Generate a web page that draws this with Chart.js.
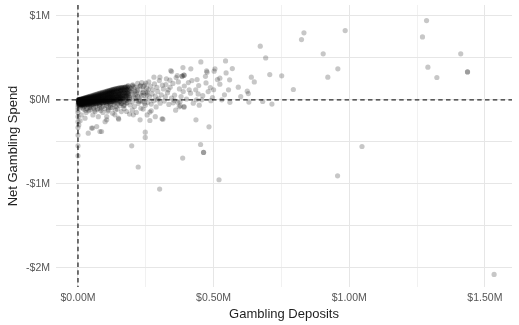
<!DOCTYPE html>
<html>
<head>
<meta charset="utf-8">
<script src="https://cdn.jsdelivr.net/npm/chart.js@4/dist/chart.umd.min.js"></script>
<style>
  html, body { margin: 0; padding: 0; background: #ffffff; }
  #wrap { width: 519px; height: 325px; }
</style>
</head>
<body>
<div id="wrap"><canvas id="c" width="519" height="325"></canvas></div>
<script>
// All amounts are in thousands of dollars: [gambling deposits, net gambling spend]

// Axis ranges ($K)
const xRange = [-81, 1600];
const yRange = [-2230, 1130];

// Tick positions ($K); multiples of 500 / 1000 are labelled, the rest are minor grid lines
const xTickValues = [0, 250, 500, 750, 1000, 1250, 1500];
const yTickValues = [-2000, -1500, -1000, -500, 0, 500, 1000];

// Heavy concentration of small accounts near the origin
const coreAccounts = [
  [1,1],[2,-4],[1,-10],[3,-17],[2,-26],[1,-37],[3,-49],[0,-60],
  [5,5],[6,0],[4,-7],[5,-14],[6,-22],[4,-31],[5,-43],[6,-57],
  [8,7],[9,2],[8,-4],[7,-9],[9,-17],[8,-25],[7,-36],[9,-47],[8,-63],
  [11,10],[12,4],[11,-2],[10,-8],[12,-15],[11,-24],[10,-33],[12,-46],
  [14,13],[15,7],[13,1],[14,-6],[15,-12],[13,-20],[14,-30],[15,-41],[14,-55],
  [17,16],[18,10],[16,3],[17,-3],[18,-10],[16,-18],[17,-27],[18,-39],[17,-52],
  [20,19],[21,12],[19,5],[20,-1],[21,-8],[19,-16],[20,-25],[21,-36],[20,-49],[19,-66],
  [24,23],[25,16],[23,9],[24,2],[25,-5],[23,-13],[24,-22],[25,-33],[24,-46],
  [28,27],[29,19],[27,12],[28,4],[29,-3],[27,-11],[28,-20],[29,-31],[28,-44],[27,-60],
  [32,31],[33,23],[31,15],[32,7],[33,0],[31,-8],[32,-17],[33,-28],[32,-41],
  [36,35],[37,26],[35,18],[36,10],[37,2],[35,-6],[36,-15],[37,-26],[36,-39],[35,-55],
  [40,39],[41,30],[39,21],[40,12],[41,4],[39,-4],[40,-13],[41,-24],[40,-37],
  [45,44],[46,34],[44,24],[45,15],[46,6],[44,-2],[45,-11],[46,-22],[45,-35],[44,-52],
  [50,49],[51,38],[49,28],[50,18],[51,9],[49,0],[50,-9],[51,-20],[50,-33],
  [55,54],[56,43],[54,32],[55,21],[56,11],[54,2],[55,-7],[56,-18],[55,-31],[54,-48],
  [60,58],[61,47],[59,35],[60,24],[61,13],[59,4],[60,-6],[61,-17],[60,-30],
  [66,64],[67,52],[65,40],[66,28],[67,17],[65,7],[66,-3],[67,-14],[66,-27],[65,-45],
  [72,70],[73,57],[71,44],[72,32],[73,20],[71,9],[72,-1],[73,-12],[72,-25],
  [78,76],[79,62],[77,49],[78,36],[79,23],[77,12],[78,1],[79,-10],[78,-23],[77,-40],
  [84,82],[85,68],[83,54],[84,40],[85,27],[83,15],[84,4],[85,-8],[84,-21],
  [90,88],[91,73],[89,58],[90,44],[91,30],[89,17],[90,5],[91,-7],[90,-20],[89,-36],
  [97,94],[98,78],[96,63],[97,48],[98,33],[96,19],[97,7],[98,-5],[97,-18],
  [104,101],[105,84],[103,68],[104,52],[105,36],[103,21],[104,8],[105,-4],[104,-17],[103,-33],
  [111,108],[112,90],[110,72],[111,55],[112,39],[110,23],[111,9],[112,-3],[111,-16],
  [118,114],[119,96],[117,77],[118,59],[119,42],[117,26],[118,11],[119,-2],[118,-15],[117,-30],
  [125,121],[126,101],[124,82],[125,63],[126,45],[124,28],[125,13],[126,0],[125,-14],
  [132,127],[133,106],[131,86],[132,66],[133,47],[131,30],[132,14],[133,-1],[132,-16],
  [140,134],[141,112],[139,90],[140,69],[141,49],[139,31],[140,15],[141,0],
  [148,140],[149,117],[147,93],[148,71],[149,50],[147,30],[148,12],[149,-6],
  [156,146],[157,120],[155,96],[156,72],[157,50],[155,29],[156,10],
  [165,150],[166,124],[164,98],[165,74],[166,51],[164,28],[165,8],
  [175,156],[176,128],[174,100],[175,76],[176,52],[174,27],
  [185,160],[186,131],[184,104],[185,78],[186,50],
  [3,-30],[6,-45],[10,-55],[13,-62],[16,-45],[19,-58],[22,-40],[26,-52],[30,-65],[34,-50],
  [38,-62],[42,-45],[47,-60],[52,-42],[57,-58],[62,-40],[68,-55],[74,-38],[80,-52],[86,-35],
  [93,-48],[100,-30],[107,-45],[114,-28],[121,-40],[128,-25],[136,-35],[144,-20],[152,-30],
  [160,-12],[170,-20],[180,-5],
  [100,90],[108,98],[115,105],[122,110],[129,118],[136,124],[143,130],[150,135],[158,138],
  [166,140],[174,142],[182,145],[190,150],
  [100,45],[108,60],[115,70],[122,75],[129,90],[136,80],[143,100],[150,85],[158,105],
  [166,88],[174,110],[182,92],[190,115],
  [100,15],[108,30],[115,33],[122,40],[129,35],[136,55],[143,40],[150,60],[158,40],
  [166,62],[174,40],[182,65],[190,30],
  [100,-10],[108,-20],[115,0],[122,5],[129,-5],[136,10],[143,5],[150,18],[158,20],
  [166,15],[174,10],[182,20],[190,10],
  [2,2],[4,-2],[3,-8],[6,3],[7,-12],[9,-20],[10,-28],[12,-36],[15,-20],[18,-30],[22,-20],
  [26,-28],[30,-10],[34,-20],[38,-30],[43,-10],[48,-25],[53,-15],[58,-22],[63,-10],
  [69,-20],[75,-5],[81,-15],[87,0],[94,-10],
  [3,0],[3,-12],[3,-24],[3,-40],[3,-55],
  [7,5],[7,-6],[7,-20],[7,-33],[7,-50],[7,-66],
  [13,10],[13,-4],[13,-16],[13,-28],[13,-42],[13,-58],
  [19,15],[19,2],[19,-12],[19,-24],[19,-38],[19,-52],
  [25,22],[25,8],[25,-6],[25,-20],[25,-36],[25,-56],
  [31,26],[31,10],[31,-4],[31,-18],[31,-34],[31,-50],
  [38,34],[38,16],[38,0],[38,-14],[38,-30],[38,-48],
  [44,40],[44,20],[44,3],[44,-12],[44,-28],[44,-46],
  [51,46],[51,26],[51,6],[51,-10],[51,-28],[51,-50],
  [58,54],[58,32],[58,10],[58,-8],[58,-26],[58,-46],
  [64,60],[64,38],[64,16],[64,-4],[64,-22],[64,-42],
  [70,66],[70,42],[70,20],[70,0],[70,-18],[70,-40],
  [76,72],[76,48],[76,26],[76,4],[76,-16],[76,-36],
  [82,78],[82,52],[82,30],[82,8],[82,-12],[82,-34],
  [88,84],[88,58],[88,34],[88,10],[88,-12],[88,-30],
  [94,90],[94,64],[94,38],[94,14],[94,-8],[94,-28],
  [101,96],[101,70],[101,42],[101,18],[101,-6],[101,-26],
  [108,104],[108,76],[108,48],[108,22],[108,-4],[108,-24],
  [115,110],[115,82],[115,54],[115,26],[115,-2],[115,-22],
  [122,116],[122,88],[122,58],[122,30],[122,2],[122,-20],
  [129,122],[129,94],[129,62],[129,32],[129,4],[129,-18],
  [136,128],[136,98],[136,66],[136,36],[136,6],[136,-14],
  [144,134],[144,104],[144,70],[144,38],[144,8],[144,-10],
  [152,140],[152,108],[152,74],[152,40],[152,10],
  [160,145],[160,112],[160,78],[160,44],[160,12],
  [170,150],[170,116],[170,82],[170,46],
  [180,155],[180,120],[180,84],[180,48]
];

// Thinner band of small net winners just under the core
const coreFringe = [
  [10,-85],[18,-95],[24,-78],[33,-105],[41,-88],[49,-72],[57,-98],[65,-80],[72,-110],[79,-70],
  [86,-92],[93,-76],[99,-104],[105,-66],[112,-85],[119,-62],[126,-95],[133,-58],[140,-78],
  [147,-50],[154,-70],[162,-45],[171,-62],[178,-38],[28,-125],[46,-118],[63,-140],[84,-128],
  [110,-135],[138,-120]
];

// Mid-sized accounts trailing off to the right of the core
const midAccounts = [
  [152,60],[155,-20],[158,110],[160,-45],[162,140],[165,20],[168,-70],[170,85],[172,150],
  [175,-10],[178,45],[180,120],[182,-35],[185,170],[187,70],[190,5],[192,-60],[195,135],
  [197,95],[200,-25],[202,180],[205,40],[208,-80],[210,150],[212,65],[215,-5],[218,110],
  [220,195],[222,-45],[225,25],[228,160],[230,80],[232,-100],[235,205],[238,-20],[240,120],
  [243,55],[246,175],[248,-65],[250,10],[253,140],[256,90],[258,-30],[261,215],[264,35],
  [267,165],[270,-50],[273,70],[276,120],[279,-10],[282,190],[285,45],[288,-85],[291,150],
  [294,100],[297,15],[300,230],[303,-40],[307,60],[311,175],[315,130],[318,-15],[322,35],
  [326,250],[330,85],[335,-55],[340,150],[345,20],[350,195],[356,55],[362,265],[368,-30],
  [374,130],[380,40],[392,165],[400,10],[410,120],[420,230],[425,-40],[445,170],[460,50],
  [470,280],[490,-10],[500,120],[540,60],[560,-30],[600,40],
  [195,60],[200,110],[205,160],[210,20],[215,80],[220,130],[225,-20],[230,170],[235,50],
  [240,90],[245,-40],[250,200],[255,60],[260,120],[200,170],[210,100],[220,40],[230,-10],
  [240,160],[250,80]
];

// Accounts that withdrew more than they deposited
const netWinners = [
  [20,-110],[30,-150],[26,-218],[40,-130],[45,-95],[50,-337],[55,-180],[62,-120],[69,-318],
  [75,-200],[80,-105],[87,-377],[92,-150],[100,-260],[106,-199],[112,-120],[120,-90],
  [128,-160],[136,-179],[145,-110],[150,-230],[160,-140],[170,-105],[179,-139],[190,-170],
  [200,-120],[215,-150],[229,-238],[240,-110],[255,-180],[270,-130],[285,-200],[38,-397],
  [54,-337],[81,-377],[106,-238],[149,-218],[204,-179],[12,-180],[8,-250],[3,-300],
  [0,-90],[0,-120],[0,-150],[0,-200],[0,-260],[0,-330],[0,-420],[0,-548],[0,-667]
];

// Large and unusual accounts
const largeAccounts = [
  [824,718],[833,798],[985,825],[904,548],[958,369],[921,270],[794,123],[751,286],[707,301],
  [692,500],[672,639],[544,464],[546,321],[569,373],[559,238],[523,258],[555,119],[591,151],
  [639,270],[650,214],[624,103],[628,75],
  [1285,944],[1270,750],[1411,548],[1290,389],[1436,333],[1436,333],[1323,266],
  [681,-20],[715,-50],[1047,-556],[957,-905],[1534,-2080],
  [222,-800],[301,-1063],[520,-952],[386,-694],[463,-627],[463,-627],[452,-532],[483,-321],
  [435,-238],[313,-230],[360,-123],[391,-87],[373,-83],[447,-63],[630,-27],[265,-146],[265,-246],
  [453,452],[384,282],[384,282],[416,369],[342,349],[474,345],[505,369],[488,146],[434,119],
  [456,0],[388,99],[355,-5],[530,0],[377,-71],[391,-80],[310,-226],[248,-385],[248,-448],[198,-548],
  [387,385],[391,294],[391,294],[345,337],[366,289],[339,234],[370,214],[407,206],[439,242],
  [476,330],[502,341],[472,202],[514,242],[523,187],[280,270],[302,270],[324,182],[333,119],
  [415,80],[443,71],[480,99],[496,28],[437,0],[376,-24],[351,-35],[293,0]
];

const points = [...coreAccounts, ...coreFringe, ...midAccounts, ...netWinners, ...largeAccounts]
  .map(([x, y]) => ({ x, y }));

// Dashed reference lines at zero deposits and zero net spend
const zeroLines = {
  id: 'zeroLines',
  beforeDatasetsDraw(chart) {
    const { ctx, chartArea: a, scales: { x, y } } = chart;
    const x0 = x.getPixelForValue(0);
    const y0 = y.getPixelForValue(0);
    ctx.save();
    ctx.strokeStyle = '#2b2b2b';
    ctx.lineWidth = 1.3;
    ctx.setLineDash([4.5, 3.3]);
    ctx.beginPath();
    ctx.moveTo(x0, a.top); ctx.lineTo(x0, a.bottom);
    ctx.moveTo(a.left, y0); ctx.lineTo(a.right, y0);
    ctx.stroke();
    ctx.restore();
  }
};

const tickFont = { family: '"Liberation Sans", Arial, sans-serif', size: 10.5 };
const titleFont = { family: '"Liberation Sans", Arial, sans-serif', size: 13 };

// Major lines at labelled ticks, fainter minor lines between, nothing at the range ends
const gridColorFor = (values) => (ctx) => {
  const v = ctx.tick ? ctx.tick.value : NaN;
  if (!values.includes(v)) return 'rgba(0,0,0,0)';
  return v % 500 === 0 ? '#e6e6e6' : '#f1f1f1';
};
const withBounds = (range, values) => [range[0], ...values, range[1]];

new Chart(document.getElementById('c'), {
  type: 'scatter',
  data: {
    datasets: [{
      data: points,
      pointRadius: 2.6,
      pointBorderWidth: 0,
      pointBackgroundColor: 'rgba(0,0,0,0.22)',
      pointHoverRadius: 2.6
    }]
  },
  options: {
    responsive: false,
    animation: false,
    events: [],
    layout: { padding: { top: 5, right: 7, bottom: 0, left: 0 } },
    plugins: { legend: { display: false }, tooltip: { enabled: false } },
    scales: {
      x: {
        type: 'linear',
        min: xRange[0],
        max: xRange[1],
        afterBuildTicks: (s) => { s.ticks = withBounds(xRange, xTickValues).map(v => ({ value: v })); },
        afterFit: (s) => { s.height = 38; s.paddingLeft = 0; s.paddingRight = 0; },
        border: { display: false },
        grid: { color: gridColorFor(xTickValues), lineWidth: 1, drawTicks: false },
        ticks: {
          padding: 5,
          color: '#555555',
          font: tickFont,
          maxRotation: 0,
          autoSkip: false,
          callback: (v) => (xTickValues.includes(v) && v % 500 === 0 ? '$' + (v / 1000).toFixed(2) + 'M' : '')
        },
        title: {
          display: true,
          text: 'Gambling Deposits',
          color: '#1e1e1e',
          font: titleFont,
          padding: { top: 0, bottom: 3 }
        }
      },
      y: {
        type: 'linear',
        min: yRange[0],
        max: yRange[1],
        afterBuildTicks: (s) => { s.ticks = withBounds(yRange, yTickValues).map(v => ({ value: v })); },
        afterFit: (s) => { s.width = 56; s.paddingTop = 0; s.paddingBottom = 0; },
        border: { display: false },
        grid: { color: gridColorFor(yTickValues), lineWidth: 1, drawTicks: false },
        ticks: {
          padding: 6,
          color: '#555555',
          font: tickFont,
          autoSkip: false,
          callback: (v) => (yTickValues.includes(v) && v % 1000 === 0 ? (v < 0 ? '-$' : '$') + Math.abs(v / 1000) + 'M' : '')
        },
        title: {
          display: true,
          text: 'Net Gambling Spend',
          color: '#1e1e1e',
          font: titleFont,
          padding: { top: 6, bottom: 0 }
        }
      }
    }
  },
  plugins: [zeroLines]
});
</script>
</body>
</html>
